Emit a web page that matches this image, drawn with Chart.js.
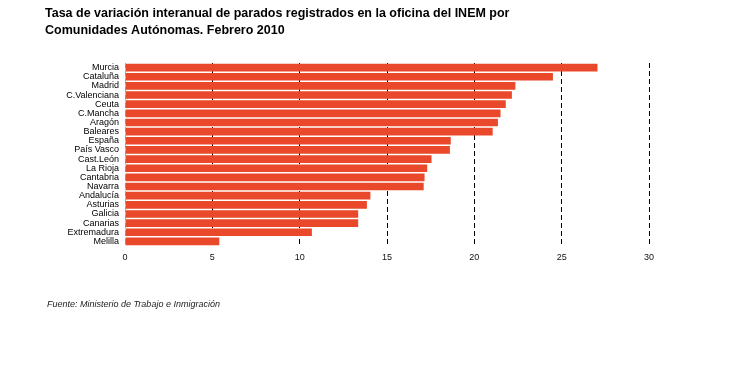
<!DOCTYPE html>
<html lang="es">
<head>
    <meta charset="UTF-8">
    <title>Tasa de variación interanual de parados</title>
    <script src="https://cdn.jsdelivr.net/npm/chart.js"></script>
    <style>
        html, body { margin: 0; padding: 0; background: #fff; }
        #wrap { width: 735px; height: 390px; position: relative; }
    </style>
</head>
<body>
<div id="wrap"><canvas id="paradosChart"></canvas></div>

<script>
    // datos
    const comunidades = [
        "Murcia", "Cataluña", "Madrid", "C.Valenciana", "Ceuta", "C.Mancha", "Aragón",
        "Baleares", "España", "País Vasco", "Cast.León", "La Rioja", "Cantabria", "Navarra",
        "Andalucía", "Asturias", "Galicia", "Canarias", "Extremadura", "Melilla"
    ];
    const tasaVariacion = [
        27.05, 24.5, 22.35, 22.15, 21.8, 21.5, 21.35,
        21.05, 18.65, 18.6, 17.55, 17.3, 17.15, 17.1,
        14.05, 13.85, 13.35, 13.35, 10.7, 5.4
    ];
    const ejeMin = 0, ejeMax = 30, ejePaso = 5;

    const titulo = [
        "Tasa de variación interanual de parados registrados en la oficina del INEM por",
        "Comunidades Autónomas. Febrero 2010"
    ];
    const fuente = "Fuente: Ministerio de Trabajo e Inmigración";

    // textos fuera del área del gráfico
    const textosPlugin = {
        id: "textos",
        afterDraw(chart) {
            const ctx = chart.ctx;
            ctx.save();
            ctx.fillStyle = "#000";
            ctx.textAlign = "left";
            ctx.textBaseline = "alphabetic";
            ctx.font = "bold 12.5px 'Liberation Sans', Arial, sans-serif";
            ctx.fillText(titulo[0], 45, 17);
            ctx.fillText(titulo[1], 45, 34);
            ctx.font = "italic 9px 'Liberation Sans', Arial, sans-serif";
            ctx.fillStyle = "#222";
            ctx.fillText(fuente, 47, 307);
            ctx.restore();
        }
    };

    const chart = new Chart(document.getElementById("paradosChart"), {
        type: "bar",
        data: {
            labels: comunidades,
            datasets: [{
                data: tasaVariacion,
                backgroundColor: "#e9482a",
                borderWidth: 0,
                barPercentage: 0.84,
                categoryPercentage: 1
            }]
        },
        options: {
            indexAxis: "y",
            responsive: true,
            maintainAspectRatio: false,
            animation: false,
            layout: { padding: { top: 63, right: 86, bottom: 124, left: 0 } },
            plugins: {
                legend: { display: false },
                tooltip: { enabled: false }
            },
            scales: {
                x: {
                    min: ejeMin,
                    max: ejeMax,
                    ticks: {
                        stepSize: ejePaso,
                        padding: 6,
                        color: "#111",
                        font: { family: "'Liberation Sans', Arial, sans-serif", size: 9 }
                    },
                    grid: {
                        drawTicks: false,
                        color: (ctx) => ctx.tick && ctx.tick.value === 0 ? "#b0b0b0" : "#000",
                        lineWidth: 1
                    },
                    border: { display: false, dash: [5, 3] },
                    afterFit: (scale) => { scale.height = 20; }
                },
                y: {
                    grid: { display: false, drawTicks: false },
                    border: { display: false },
                    ticks: {
                        padding: 6,
                        color: "#000",
                        autoSkip: false,
                        font: { family: "'Liberation Sans', Arial, sans-serif", size: 9 }
                    },
                    afterFit: (scale) => { scale.width = 125; }
                }
            }
        },
        plugins: [textosPlugin]
    });
</script>
</body>
</html>
